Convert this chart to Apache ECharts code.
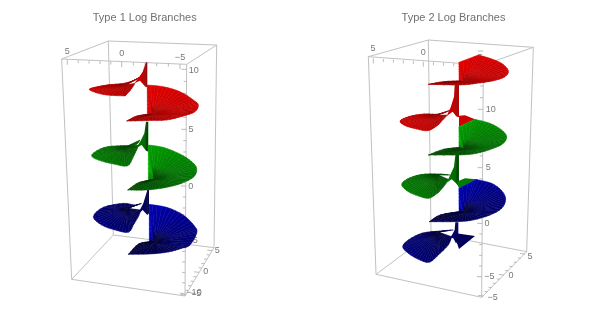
<!DOCTYPE html>
<html><head><meta charset="utf-8">
<style>html,body{margin:0;padding:0;background:#fff}#c{width:599px;height:313px}</style>
<script src="https://cdn.jsdelivr.net/npm/echarts@6/dist/echarts.min.js"></script>
</head><body><div id="c"></div>
<script>
const titles = ['Type 1 Log Branches', 'Type 2 Log Branches'];

// box corners: top A,B,C,D then bottom A,B,C,D
const box1 = [[65,87],[205,33],[530,45],[440,103],[95,748],[220,615],[522,653],[435,798]];
const box2 = [[55,80],[235,30],[550,52],[400,105],[78,733],[243,610],[530,665],[395,802]];

// tick axes: major tick positions, labels and label positions
const xMajor1 = [[82,89],[245,96],[420,102]];
const xLabels1 = [['5',82,65],['0',245,72],['\u22125',420,82]];
const zMajor1 = [[440,118],[439,298],[438,468],[436,633],[435,790]];
const zLabels1 = [['10',461,123],['5',453,300],['0',452,470],['\u22125',458,633],['\u221210',462,788]];
const yMajor1 = [[517,662],[477,727],[437,795]];
const yLabels1 = [['5',532,663],['0',497,725],['\u22125',468,790]];

const xMajor2 = [[70,85],[220,95],[372,103]];
const xLabels2 = [['5',69,57],['0',220,68],['\u22125',383,82]];
const zMajor2 = [[400,63],[399,238],[398,413],[397,580],[396,740]];
const zLabels2 = [['',0,0],['10',422,240],['5',415,413],['0',411,580],['\u22125',418,740]];
const yMajor2 = [[525,672],[462,735],[400,798]];
const yLabels2 = [['5',540,680],['0',483,738],['\u22125',428,802]];

// shading read along each sheet's rim (0 dark .. 1 bright)
const rightShade = [.6,.95,.82,.76,.7,.66,.63,.6,.56,.52,.48,.44,.38,.34];
const leftShade = [.45,.5,.54,.58,.6,.62,.6,.58,.54,.5,.46];
// rim points that are sharp corners rather than part of a smooth curve
const leftCorners = [0,8,10];
const rightCorners = [0,2,11,13];
const rightCornersFold = [0,2,3,11,13];

// Type 1 sheets
const red1Left = [[302,140],[285,150],[250,160],[200,165],[165,172],[148,178],[165,187],[200,195],[255,198],[272,180],[285,160]];
const red1Hub = [255,165];
const red1Neck = [[318,97],[308,125],[296,143],[283,160],[300,152],[316,170],[322,172],[322,97]];
const red1Right = [[322,255],[322,210],[322,165],[370,170],[420,185],[460,210],[475,225],[465,245],[430,258],[380,270],[320,272],[260,273],[290,258],[322,255]];
const red1RightHub = [340,252];

const green1Left = [[300,330],[285,345],[240,347],[190,353],[155,375],[175,390],[220,402],[262,408],[278,385],[290,360],[296,345]];
const green1Hub = [255,352];
const green1Neck = [[318,275],[313,310],[302,332],[288,355],[305,345],[318,362],[325,365],[325,275]];
const green1Right = [[325,455],[325,400],[325,345],[370,352],[420,372],[455,395],[470,415],[462,440],[425,460],[375,473],[320,480],[263,480],[295,458],[325,455]];
const green1RightHub = [345,447];

const blue1Left = [[305,520],[285,525],[250,520],[190,532],[160,560],[185,585],[225,600],[265,607],[280,585],[295,560],[303,540]];
const blue1Hub = [262,535];
const blue1Neck = [[322,480],[316,500],[310,520],[292,555],[308,540],[322,555],[327,550],[327,480]];
const blue1Right = [[328,636],[328,580],[328,523],[380,532],[430,555],[465,590],[470,610],[450,645],[425,655],[385,666],[330,672],[265,673],[295,642],[328,636]];
const blue1RightHub = [345,635];

// Type 2 sheets
const red2Right = [[327,153],[327,125],[327,97],[385,75],[420,85],[455,100],[475,122],[465,140],[430,152],[380,160],[330,165],[235,163],[280,155],[327,153]];
const red2RightHub = [345,155];
const red2Neck = [[314,165],[312,200],[302,232],[290,258],[308,245],[318,258],[327,262],[327,165]];
const red2Left = [[302,240],[270,252],[220,252],[175,260],[150,273],[165,287],[200,297],[235,302],[265,285],[280,268],[292,255]];
const red2Hub = [255,256];
const red2Patch = [[318,258],[345,256],[375,268],[327,290],[327,262]];

const green2Right = [[327,352],[327,320],[327,290],[375,268],[420,280],[455,300],[470,320],[460,340],[430,355],[380,370],[330,375],[235,375],[280,358],[327,352]];
const green2RightHub = [345,358];
const green2Neck = [[316,375],[312,410],[302,432],[290,458],[305,448],[318,460],[327,470],[327,375]];
const green2Left = [[300,435],[265,432],[210,434],[170,448],[155,465],[175,485],[205,498],[237,505],[265,488],[285,465],[295,448]];
const green2Hub = [262,434];
const green2Patch = [[320,455],[345,445],[378,448],[327,475]];

const blue2Right = [[327,545],[327,510],[327,475],[378,448],[425,460],[455,482],[467,508],[455,535],[420,555],[370,570],[320,575],[238,575],[270,555],[327,545]];
const blue2RightHub = [345,545];
const blue2Neck = [[316,577],[314,600],[306,615],[300,622],[310,625],[318,640],[325,630],[325,577]];
const blue2Left = [[310,600],[270,603],[215,610],[175,630],[158,650],[175,670],[205,688],[238,697],[265,675],[295,645],[305,620]];
const blue2Hub = [265,606];
const blue2Patch = [[312,625],[318,610],[375,618],[327,657],[322,642]];

const HUES = {
  red:   {peak:[255,0,0], g:.45},
  green: {peak:[0,205,0], g:1.05},
  blue:  {peak:[0,0,255], g:1.5}
};
function col(h, s){
  const H = HUES[h];
  const k = Math.pow(s, H.g);
  const dark = (1 - Math.min(1, s*3)) * 60;
  return 'rgb(' + H.peak.map(c => Math.round(c*k + dark)).join(',') + ')';
}

const fan = (hue, hub, rim, shade, corners) => ({kind:'fan', hue, hub, rim, shade, corners});
const neck = (hue, pts) => ({kind:'neck', hue, pts});
const patch = (hue, pts, s) => ({kind:'patch', hue, pts, s});

const pieces1 = [
  fan('red',red1Hub,red1Left,leftShade,leftCorners), neck('red',red1Neck), fan('red',red1RightHub,red1Right,rightShade,rightCorners),
  fan('green',green1Hub,green1Left,leftShade,leftCorners), neck('green',green1Neck), fan('green',green1RightHub,green1Right,rightShade,rightCorners),
  fan('blue',blue1Hub,blue1Left,leftShade,leftCorners), neck('blue',blue1Neck), fan('blue',blue1RightHub,blue1Right,rightShade,rightCorners)
];
const pieces2 = [
  fan('red',red2RightHub,red2Right,rightShade,rightCornersFold), fan('red',red2Hub,red2Left,leftShade,leftCorners), neck('red',red2Neck), patch('red',red2Patch,.62),
  fan('green',green2RightHub,green2Right,rightShade,rightCornersFold), fan('green',green2Hub,green2Left,leftShade,leftCorners), neck('green',green2Neck), patch('green',green2Patch,.62),
  fan('blue',blue2RightHub,blue2Right,rightShade,rightCornersFold), fan('blue',blue2Hub,blue2Left,leftShade,leftCorners), neck('blue',blue2Neck), patch('blue',blue2Patch,.5)
];

const lerp = (a,b,t) => [a[0]+(b[0]-a[0])*t, a[1]+(b[1]-a[1])*t];

// draw-time curve smoothing of a rim between its corners (like a smooth line)
function smoothRim(rim, shade, corners){
  const out = [];
  const SUB = 4;
  for (let c=0;c<corners.length-1;c++){
    const from = corners[c], to = corners[c+1];
    for (let i=from;i<to;i++){
      const p0 = rim[Math.max(from,i-1)], p1 = rim[i], p2 = rim[i+1], p3 = rim[Math.min(to,i+2)];
      for (let k=0;k<SUB;k++){
        const t = k/SUB, t2=t*t, t3=t2*t;
        const f = j => .5*(2*p1[j]+(p2[j]-p0[j])*t+(2*p0[j]-5*p1[j]+4*p2[j]-p3[j])*t2+(3*p1[j]-p0[j]-3*p2[j]+p3[j])*t3);
        out.push({p:[f(0),f(1)], s:shade[i]+(shade[i+1]-shade[i])*t});
      }
    }
  }
  out.push({p:rim[rim.length-1], s:shade[rim.length-1]});
  return out;
}

function renderPiece(p, api){
  const C = q => api.coord(q);
  const kids = [];
  if (p.kind === 'fan'){
    const hub = C(p.hub);
    const R = smoothRim(p.rim,p.shade,p.corners);
    const P = R.map(r => C(r.p));
    for (let i=0;i<P.length-1;i++){
      const a = P[i], b = P[i+1], m = lerp(a,b,.5);
      const s = R[i+1].s;
      const g = new echarts.graphic.LinearGradient(hub[0],hub[1],m[0],m[1],[
        {offset:0,color:col(p.hue,.24)},
        {offset:.14,color:col(p.hue,Math.min(s,.4))},
        {offset:.38,color:col(p.hue,s*.9)},
        {offset:1,color:col(p.hue,s)}],true);
      kids.push({type:'polygon',shape:{points:[hub,a,b]},style:{fill:g,stroke:g,lineWidth:.5}});
    }
    for (let i=0;i<P.length;i+=2){
      const a = lerp(hub,P[i],.22), b = P[i];
      kids.push({type:'line',shape:{x1:a[0],y1:a[1],x2:b[0],y2:b[1]},style:{stroke:'rgba(30,30,30,.1)',lineWidth:.4}});
    }
    [.4,.54,.66,.78,.89].forEach(t => {
      kids.push({type:'polyline',shape:{points:P.map(q => lerp(hub,q,t))},style:{fill:null,stroke:'rgba(30,30,30,.12)',lineWidth:.4}});
    });
  } else if (p.kind === 'neck'){
    const pts = p.pts.map(C);
    const xs = pts.map(q=>q[0]);
    const x0 = Math.min.apply(null,xs), x1 = Math.max.apply(null,xs);
    const g = new echarts.graphic.LinearGradient(x0,0,x1,0,[
      {offset:0,color:col(p.hue,.6)},
      {offset:.7,color:col(p.hue,.55)},
      {offset:.86,color:col(p.hue,.22)},
      {offset:.94,color:col(p.hue,.28)},
      {offset:1,color:col(p.hue,.7)}],true);
    kids.push({type:'polygon',shape:{points:pts},style:{fill:g}});
  } else {
    kids.push({type:'polygon',shape:{points:p.pts.map(C)},style:{fill:col(p.hue,p.s)}});
  }
  return {type:'group',children:kids};
}

function renderFrame(box, xM, zM, yM, xL, zL, yL, api){
  const C = q => api.coord(q);
  const kids = [];
  const LINE = '#c2c2c2', TICK = '#aaa', TXT = '#777';
  const edges = [[0,1],[1,2],[2,3],[3,0],[4,5],[5,6],[6,7],[7,4],[0,4],[1,5],[2,6],[3,7]];
  edges.forEach(e => {
    const a = C(box[e[0]]), b = C(box[e[1]]);
    kids.push({type:'line',shape:{x1:a[0],y1:a[1],x2:b[0],y2:b[1]},style:{stroke:LINE,lineWidth:1}});
  });
  const tickSet = (maj, dx, dy) => {
    for (let i=0;i<maj.length-1;i++){
      for (let k=0;k<5;k++){
        const q = lerp(maj[i],maj[i+1],k/5);
        const l = k===0 ? 1.7 : 1;
        const a = C(q), b = C([q[0]+dx*l,q[1]+dy*l]);
        kids.push({type:'line',shape:{x1:a[0],y1:a[1],x2:b[0],y2:b[1]},style:{stroke:TICK,lineWidth:.8}});
      }
    }
    const e = maj[maj.length-1];
    const a = C(e), b = C([e[0]+dx*1.7,e[1]+dy*1.7]);
    kids.push({type:'line',shape:{x1:a[0],y1:a[1],x2:b[0],y2:b[1]},style:{stroke:TICK,lineWidth:.8}});
  };
  tickSet(xM,0,9); tickSet(zM,-9,0); tickSet(yM,-9,-1);
  xL.concat(zL,yL).forEach(l => {
    if(!l[0]) return;
    const a = C([l[1],l[2]]);
    kids.push({type:'text',style:{x:a[0],y:a[1],text:l[0],fill:TXT,font:'9px "Liberation Sans", Arial, sans-serif',textAlign:'center',textVerticalAlign:'middle'}});
  });
  return {type:'group',children:kids};
}

const chart = echarts.init(document.getElementById('c'),null,{renderer:'canvas'});
const hidden = {type:'value',min:0,show:false};
const titleStyle = {fontFamily:'"Liberation Sans"',fontSize:11,fontWeight:'normal',color:'#707070'};
chart.setOption({
  animation:false,
  backgroundColor:'#fff',
  title:[
    {text:titles[0],left:144.7,top:12.5,padding:0,textAlign:'center',textStyle:titleStyle},
    {text:titles[1],left:453.5,top:12.5,padding:0,textAlign:'center',textStyle:titleStyle}
  ],
  grid:[
    {left:40,top:30,width:200,height:280},
    {left:350,top:30,width:200,height:280}
  ],
  xAxis:[Object.assign({},hidden,{max:600,gridIndex:0}),Object.assign({},hidden,{max:600,gridIndex:1})],
  yAxis:[Object.assign({},hidden,{max:840,inverse:true,gridIndex:0}),Object.assign({},hidden,{max:840,inverse:true,gridIndex:1})],
  series:[
    {type:'custom',xAxisIndex:0,yAxisIndex:0,clip:false,silent:true,data:[0],z:1,
     renderItem:(o,api)=>renderFrame(box1,xMajor1,zMajor1,yMajor1,xLabels1,zLabels1,yLabels1,api)},
    {type:'custom',xAxisIndex:1,yAxisIndex:1,clip:false,silent:true,data:[0],z:1,
     renderItem:(o,api)=>renderFrame(box2,xMajor2,zMajor2,yMajor2,xLabels2,zLabels2,yLabels2,api)},
    {type:'custom',xAxisIndex:0,yAxisIndex:0,clip:false,silent:true,z:2,data:pieces1.map((p,i)=>i),
     renderItem:(o,api)=>renderPiece(pieces1[o.dataIndex],api)},
    {type:'custom',xAxisIndex:1,yAxisIndex:1,clip:false,silent:true,z:2,data:pieces2.map((p,i)=>i),
     renderItem:(o,api)=>renderPiece(pieces2[o.dataIndex],api)}
  ]
});
</script></body></html>
